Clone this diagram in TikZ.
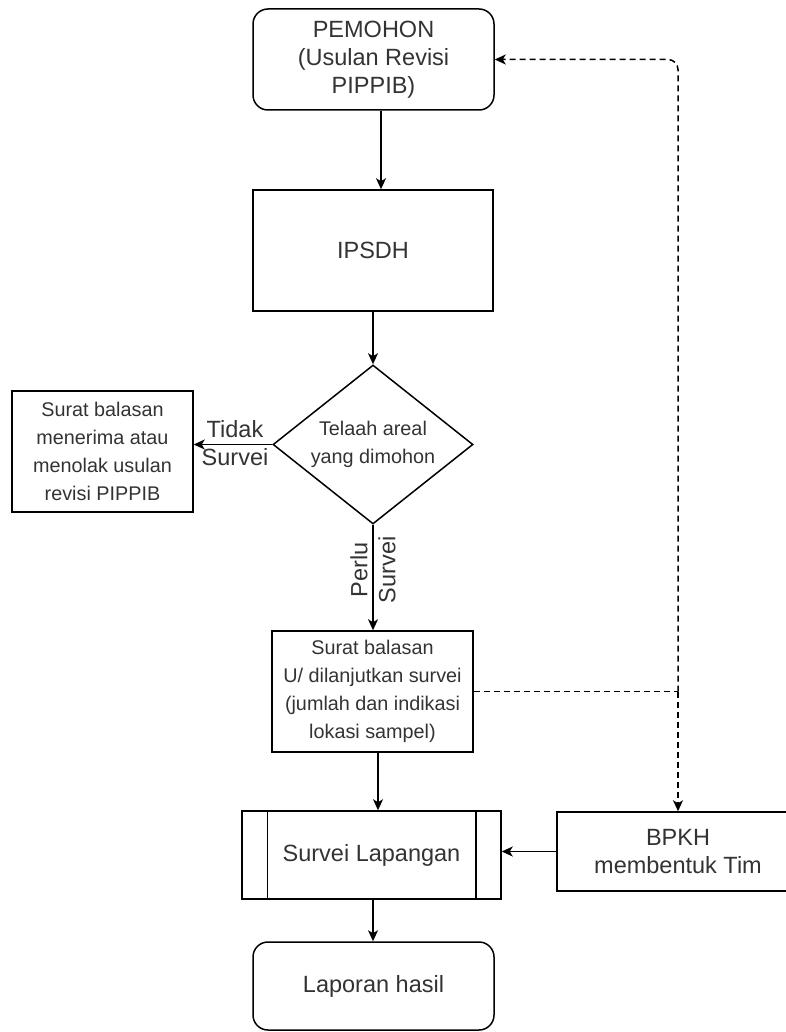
\documentclass[tikz,border=0pt]{standalone}
\usepackage{fontspec}
\setmainfont{Liberation Sans}
\usepackage{xcolor}
\usepackage{tikz}
\usetikzlibrary{shapes.geometric,arrows.meta}
\definecolor{txtgray}{HTML}{333333}

\begin{document}
\begin{tikzpicture}[x=1pt, y=-1pt, line width=1.5pt,
        box/.style={draw, rectangle, text=txtgray, align=center, inner sep=2pt, font=\fontsize{23.5}{28}\selectfont},
        small/.style={font=\fontsize{19.8}{28}\selectfont},
        term/.style={box, rounded corners=15pt, minimum width=241pt},
        decision/.style={draw, diamond, aspect=1.26, text=txtgray, align=center, inner sep=1pt, minimum width=200pt, minimum height=159pt, font=\fontsize{19.8}{28}\selectfont},
        lbl/.style={text=txtgray, align=center, inner sep=0pt, font=\fontsize{23.5}{28}\selectfont},
        arr/.style={-{Stealth[length=11pt, width=10pt, inset=3pt]}}]
        \useasboundingbox (0,0) rectangle (786,1032);

        % Define nodes of the main flow
        \node[term, minimum height=101pt] (pemohon) at (373.5,59.5) {PEMOHON\\(Usulan Revisi\\PIPPIB)};
        \node[box, minimum width=240pt, minimum height=121pt] (ipsdh) at (373,250.5) {IPSDH};
        \node[decision] (telaah) at (373,444.5) {Telaah areal\\yang dimohon};
        \node[box, small, minimum width=181pt, minimum height=121pt] (tolak) at (102.5,451.5) {Surat balasan\\menerima atau\\menolak usulan\\revisi PIPPIB};
        \node[box, small, minimum width=201pt, minimum height=121pt] (balasan) at (372.5,691.5) {Surat balasan\\U/ dilanjutkan survei\\(jumlah dan indikasi\\lokasi sampel)};
        \node[box, minimum width=259pt, minimum height=88pt] (survei) at (371.5,855) {Survei Lapangan};
        \node[term, minimum height=88pt] (laporan) at (373.5,986) {Laporan hasil};
        \node[box, minimum width=242pt, minimum height=79pt] (bpkh) at (678,851.5) {BPKH\\membentuk Tim};

        % Side bars of the process box
        \draw ([xshift=26pt]survei.north west) -- ([xshift=26pt]survei.south west);
        \draw ([xshift=-26pt]survei.north east) -- ([xshift=-26pt]survei.south east);

        % Labels of the decision
        \node[lbl] (tidak) at (235,443) {Tidak\\Survei};
        \node[lbl, rotate=90] (perlu) at (373,570) {Perlu\\Survei};

        % Define edges
        \draw[arr] ([xshift=7.5pt]pemohon.south) -- ([xshift=7.5pt]pemohon.south |- ipsdh.north);
        \draw[arr] (ipsdh.south) -- (ipsdh.south |- telaah.north);
        \draw[arr] (telaah.west) -- (telaah.west -| tolak.east);
        \draw[arr] (telaah.south) -- (telaah.south |- balasan.north);
        \draw[arr] ([xshift=5.5pt]balasan.south) -- ([xshift=5.5pt]balasan.south |- survei.north);
        \draw[arr] ([xshift=1.5pt]survei.south) -- ([xshift=1.5pt]survei.south |- laporan.north);
        \draw[arr] (bpkh.west) -- (bpkh.west -| survei.east);

        % Dashed links to BPKH and back to the applicant
        \coordinate (jn) at (bpkh.north |- balasan.east);
        \draw[dash pattern=on 6pt off 4pt] (balasan.east) -- (jn);
        \draw[arr, dash pattern=on 6pt off 4pt, rounded corners=10pt] (jn) |- (pemohon.east);
        \draw[arr, dash pattern=on 6pt off 4pt] (jn) -- (bpkh.north);
\end{tikzpicture}
\end{document}
